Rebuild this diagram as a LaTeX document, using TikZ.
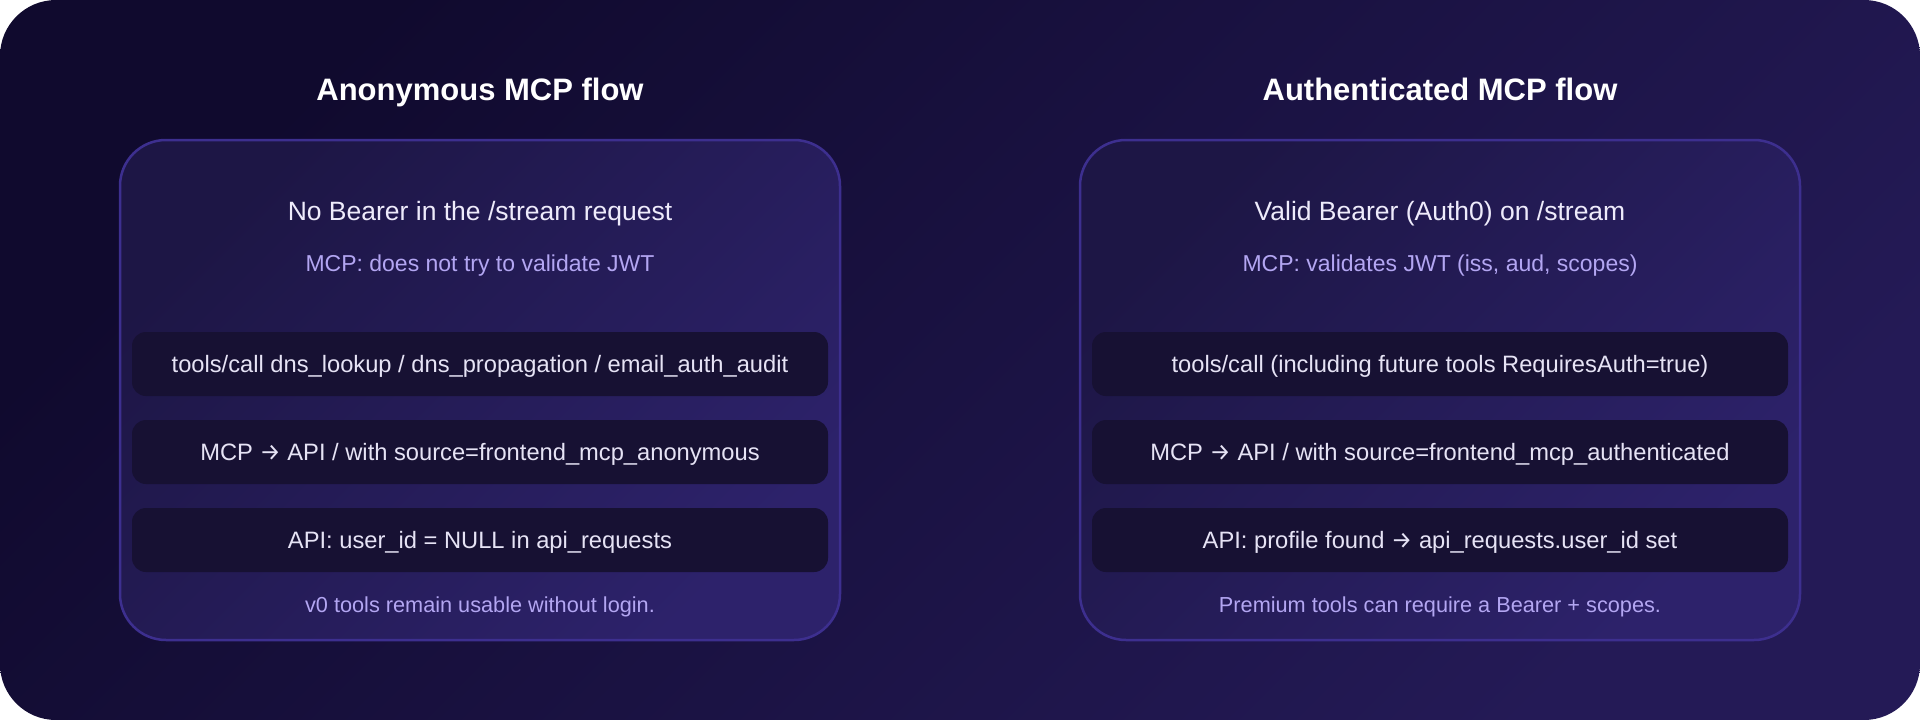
\documentclass[tikz,border=0pt]{standalone}
\usepackage{fontspec}
\setmainfont{Liberation Sans}
\newfontfamily\arrowfont{Fira Sans}
\newcommand{\rarr}{{\arrowfont →}}
\definecolor{bgA}{HTML}{100A2E}
\definecolor{bgB}{HTML}{241A56}
\definecolor{panA}{HTML}{1D1645}
\definecolor{panB}{HTML}{2D226B}
\definecolor{panEdge}{HTML}{3D2F8F}
\definecolor{boxFill}{HTML}{171133}
\definecolor{txtMain}{HTML}{EEEBFB}
\definecolor{txtSub}{HTML}{B3A6F2}
\definecolor{txtBox}{HTML}{E6E3F5}
\begin{document}
\begin{tikzpicture}[x=1pt,y=-1pt,
  titletext/.style={text=white, font=\fontsize{31}{36}\selectfont\bfseries, inner sep=0pt,
    text height=23pt, text depth=7pt},
  headtext/.style={text=txtMain, font=\fontsize{26.5}{30}\selectfont, inner sep=0pt},
  subtext/.style={text=txtSub, font=\fontsize{23}{27}\selectfont, inner sep=0pt},
  foottext/.style={text=txtSub, font=\fontsize{21.7}{26}\selectfont, inner sep=0pt},
  panel/.style={top color=panA, bottom color=panB, shading angle=45, draw=panEdge, line width=2.5pt,
    rounded corners=46pt, minimum width=720pt, minimum height=500pt, inner sep=0pt},
  stepbox/.style={fill=boxFill, rounded corners=14pt, minimum width=696pt, minimum height=64pt,
    inner sep=0pt, text=txtBox, font=\fontsize{23.7}{28}\selectfont},
  boxtext/.style={text=txtBox, font=\fontsize{23.7}{28}\selectfont, inner sep=0pt},
]
\useasboundingbox (0,0) rectangle (1920,720);
\fill[white] (0,0) rectangle (1920,720);
\shade[top color=bgA, bottom color=bgB, shading angle=45, rounded corners=56pt] (0,0) rectangle (1920,720);

% Left panel
\node[titletext] (ltitle) at (480,92) {Anonymous MCP flow};
\node[panel] (lpanel) at (480,390) {};
\node[headtext] (lhead) at (480,214) {No Bearer in the /stream request};
\node[subtext] (lsub) at (480,266) {MCP: does not try to validate JWT};
\node[stepbox] (lbox1) at (480,364) {};
\node[stepbox] (lbox2) at (480,452) {};
\node[stepbox] (lbox3) at (480,540) {};
\node[boxtext] (lt1) at (480,366.5) {tools/call dns\_lookup / dns\_propagation / email\_auth\_audit};
\node[boxtext] (lt2) at (480,454.5) {MCP \rarr{} API / with source=frontend\_mcp\_anonymous};
\node[boxtext] (lt3) at (480,542.5) {API: user\_id = NULL in api\_requests};
\node[foottext] (lfoot) at (480,607) {v0 tools remain usable without login.};

% Right panel
\node[titletext] (rtitle) at (1440,92) {Authenticated MCP flow};
\node[panel] (rpanel) at (1440,390) {};
\node[headtext] (rhead) at (1440,214) {Valid Bearer (Auth0) on /stream};
\node[subtext] (rsub) at (1440,266) {MCP: validates JWT (iss, aud, scopes)};
\node[stepbox] (rbox1) at (1440,364) {};
\node[stepbox] (rbox2) at (1440,452) {};
\node[stepbox] (rbox3) at (1440,540) {};
\node[boxtext] (rt1) at (1440,366.5) {tools/call (including future tools RequiresAuth=true)};
\node[boxtext] (rt2) at (1440,454.5) {MCP \rarr{} API / with source=frontend\_mcp\_authenticated};
\node[boxtext] (rt3) at (1440,542.5) {API: profile found \rarr{} api\_requests.user\_id set};
\node[foottext] (rfoot) at (1440,607) {Premium tools can require a Bearer + scopes.};
\end{tikzpicture}
\end{document}
